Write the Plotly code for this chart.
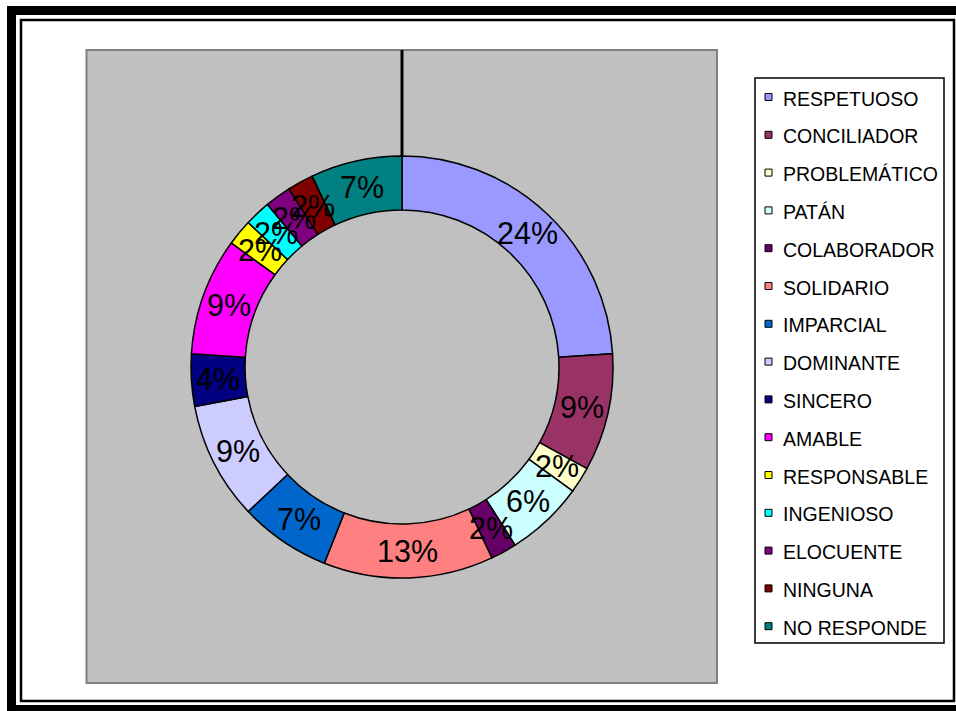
import math
import plotly.graph_objects as go

# Categorías y porcentajes del gráfico de anillo
categorias = [
    "RESPETUOSO", "CONCILIADOR", "PROBLEMÁTICO", "PATÁN", "COLABORADOR",
    "SOLIDARIO", "IMPARCIAL", "DOMINANTE", "SINCERO", "AMABLE",
    "RESPONSABLE", "INGENIOSO", "ELOCUENTE", "NINGUNA", "NO RESPONDE",
]
porcentajes = [24, 9, 2, 6, 2, 13, 7, 9, 4, 9, 2, 2, 2, 2, 7]
colores = [
    "#9999FF", "#993366", "#FFFFCC", "#CCFFFF", "#660066",
    "#FF8080", "#0066CC", "#CCCCFF", "#000080", "#FF00FF",
    "#FFFF00", "#00FFFF", "#800080", "#800000", "#008080",
]

W, H = 956, 711
FUENTE = "Liberation Sans, Arial, sans-serif"

# Geometría del anillo (píxeles)
cx, cy = 402, 367
r_ext, r_int = 211, 157


def px(x):
    return x / W


def py(y):
    return 1 - y / H


fig = go.Figure(
    go.Pie(
        labels=categorias,
        values=porcentajes,
        sort=False,
        direction="clockwise",
        rotation=0,
        hole=r_int / r_ext,
        marker=dict(colors=colores, line=dict(color="black", width=1.5)),
        textinfo="none",
        hoverinfo="label+percent",
        showlegend=False,
        domain=dict(
            x=[px(cx - r_ext), px(cx + r_ext)],
            y=[py(cy + r_ext), py(cy - r_ext)],
        ),
    )
)

shapes = []
annotations = []

# Marco exterior grueso y marco interior fino
shapes.append(dict(type="rect", xref="paper", yref="paper",
                   x0=px(11.5), x1=px(962), y0=py(10.5), y1=py(709.5),
                   line=dict(color="black", width=9), fillcolor="rgba(0,0,0,0)",
                   layer="below"))
shapes.append(dict(type="rect", xref="paper", yref="paper",
                   x0=px(21), x1=px(954), y0=py(20), y1=py(701),
                   line=dict(color="black", width=2.5), fillcolor="white",
                   layer="below"))

# Área de trazado gris
shapes.append(dict(type="rect", xref="paper", yref="paper",
                   x0=px(86.5), x1=px(717), y0=py(50), y1=py(683),
                   line=dict(color="#808080", width=2), fillcolor="#C0C0C0",
                   layer="below"))

# Línea vertical desde el borde superior hasta el anillo
shapes.append(dict(type="line", xref="paper", yref="paper",
                   x0=px(cx), x1=px(cx), y0=py(50), y1=py(cy - r_ext),
                   line=dict(color="black", width=3)))

# Etiquetas de porcentaje en el centro de cada sector
total = sum(porcentajes)
acumulado = 0
r_med = (r_ext + r_int) / 2
for v in porcentajes:
    theta = 2 * math.pi * (acumulado + v / 2) / total
    acumulado += v
    x = cx + r_med * math.sin(theta)
    y = cy - r_med * math.cos(theta)
    annotations.append(dict(
        x=px(x), y=py(y), xref="paper", yref="paper",
        text=f"{round(100 * v / total)}%", showarrow=False,
        xanchor="center", yanchor="middle",
        font=dict(family=FUENTE, size=30.5, color="black"),
    ))

# Leyenda
ley_x0, ley_x1, ley_y0, ley_y1 = 755, 944, 78, 643
shapes.append(dict(type="rect", xref="paper", yref="paper",
                   x0=px(ley_x0), x1=px(ley_x1), y0=py(ley_y0), y1=py(ley_y1),
                   line=dict(color="black", width=1.5), fillcolor="white"))
paso = 37.8
for i, (nombre, color) in enumerate(zip(categorias, colores)):
    yc = 98.5 + i * paso
    shapes.append(dict(type="rect", xref="paper", yref="paper",
                       x0=px(765), x1=px(772), y0=py(yc - 5), y1=py(yc + 2),
                       line=dict(color="black", width=1), fillcolor=color))
    annotations.append(dict(
        x=px(781), y=py(yc), xref="paper", yref="paper",
        text=nombre, showarrow=False, xanchor="left", yanchor="middle",
        font=dict(family=FUENTE, size=19.5, color="black"),
    ))

fig.update_layout(
    width=W, height=H,
    margin=dict(l=0, r=0, t=0, b=0),
    paper_bgcolor="white",
    plot_bgcolor="white",
    showlegend=False,
    shapes=shapes,
    annotations=annotations,
    font=dict(family=FUENTE),
)

fig.write_html("out.html")
